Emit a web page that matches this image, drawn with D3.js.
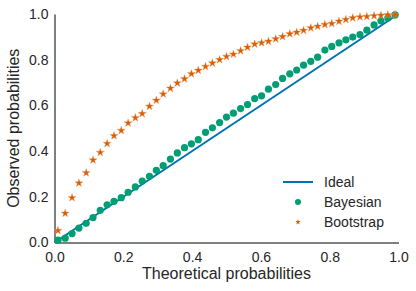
<!DOCTYPE html>
<html>
<head>
<meta charset="utf-8">
<script src="https://cdn.jsdelivr.net/npm/d3@7"></script>
<style>
  body { margin: 0; background: #fff; }
  svg { display: block; font-family: Arial, "Liberation Sans", sans-serif; }
</style>
</head>
<body>
<svg id="chart" width="416" height="291"></svg>
<script>
let theoretical = [0.010, 0.031, 0.051, 0.071, 0.092, 0.112, 0.133, 0.153, 0.173, 0.194,
  0.214, 0.235, 0.255, 0.276, 0.296, 0.316, 0.337, 0.357, 0.378, 0.398,
  0.418, 0.439, 0.459, 0.480, 0.500, 0.520, 0.541, 0.561, 0.582, 0.602,
  0.622, 0.643, 0.663, 0.684, 0.704, 0.724, 0.745, 0.765, 0.786, 0.806,
  0.827, 0.847, 0.867, 0.888, 0.908, 0.929, 0.949, 0.969, 0.990]

let bayesian = [0.010, 0.019, 0.039, 0.063, 0.084, 0.109, 0.141, 0.165, 0.180, 0.196,
  0.220, 0.243, 0.269, 0.290, 0.316, 0.336, 0.365, 0.392, 0.415, 0.432,
  0.450, 0.482, 0.502, 0.525, 0.549, 0.566, 0.586, 0.604, 0.630, 0.642,
  0.671, 0.691, 0.718, 0.738, 0.755, 0.776, 0.793, 0.811, 0.842, 0.858,
  0.874, 0.887, 0.899, 0.910, 0.929, 0.952, 0.970, 0.983, 0.996]

let bootstrap = [0.052, 0.128, 0.196, 0.260, 0.305, 0.361, 0.394, 0.433, 0.467, 0.490,
  0.523, 0.546, 0.564, 0.596, 0.622, 0.650, 0.675, 0.698, 0.716, 0.738,
  0.753, 0.770, 0.785, 0.800, 0.814, 0.824, 0.839, 0.854, 0.868, 0.874,
  0.880, 0.891, 0.901, 0.913, 0.920, 0.928, 0.939, 0.946, 0.954, 0.958,
  0.968, 0.976, 0.983, 0.987, 0.989, 0.992, 0.994, 0.996, 0.997]

let ideal = [0, 1]
let ticks = [0, 0.2, 0.4, 0.6, 0.8, 1.0]
let legendItems = ['Ideal', 'Bayesian', 'Bootstrap']

let svg = d3.select('#chart')
let x = d3.scaleLinear().domain([0, 1]).range([54.5, 398.5])
let y = d3.scaleLinear().domain([0, 1]).range([242.5, 14])

let textColor = '#262626'
let blue = '#0072B2', green = '#009E73', orange = '#D55E00'

// axes, no tick marks (seaborn white style)
let xAxis = svg.append('g')
  .attr('transform', `translate(0, ${y(0)})`)
  .call(d3.axisBottom(x).tickValues(ticks).tickFormat(d3.format('.1f')).tickSize(0).tickPadding(10))
let yAxis = svg.append('g')
  .attr('transform', `translate(${x(0)}, 0)`)
  .call(d3.axisLeft(y).tickValues(ticks).tickFormat(d3.format('.1f')).tickSize(0).tickPadding(6))

;[xAxis, yAxis].forEach(a => {
  a.select('.domain').attr('stroke', '#555').attr('stroke-width', 1.5)
  a.selectAll('text').attr('fill', textColor).style('font-size', '14px')
})

svg.append('text')
  .attr('x', (x(0) + x(1)) / 2).attr('y', 279)
  .attr('text-anchor', 'middle').attr('fill', textColor)
  .style('font-size', '16px')
  .text('Theoretical probabilities')

svg.append('text')
  .attr('transform', `translate(19, ${(y(0) + y(1)) / 2}) rotate(-90)`)
  .attr('text-anchor', 'middle').attr('fill', textColor)
  .style('font-size', '16px')
  .text('Observed probabilities')

svg.append('line')
  .attr('x1', x(ideal[0])).attr('y1', y(ideal[0]))
  .attr('x2', x(ideal[1])).attr('y2', y(ideal[1]))
  .attr('stroke', blue).attr('stroke-width', 2)

let star = d3.symbol().type(d3.symbolStar).size(21)
let smallStar = d3.symbol().type(d3.symbolStar).size(10)

svg.append('g').selectAll('circle')
  .data(theoretical)
  .join('circle')
  .attr('cx', d => x(d))
  .attr('cy', (d, i) => y(bayesian[i]))
  .attr('r', 3.6)
  .attr('fill', green)

svg.append('g').selectAll('path')
  .data(theoretical)
  .join('path')
  .attr('d', star)
  .attr('transform', (d, i) => `translate(${x(d)}, ${y(bootstrap[i])})`)
  .attr('fill', orange)
  .attr('stroke', '#f0a070').attr('stroke-width', 0.4)

// legend
let legend = svg.append('g').attr('transform', 'translate(283, 182)')
legendItems.forEach((name, i) => {
  let row = legend.append('g').attr('transform', `translate(0, ${i * 20})`)
  if (i === 0) {
    row.append('line').attr('x1', 0).attr('x2', 30).attr('y1', 0).attr('y2', 0)
      .attr('stroke', blue).attr('stroke-width', 2)
  } else if (i === 1) {
    row.append('circle').attr('cx', 15).attr('cy', 0).attr('r', 3).attr('fill', green)
  } else {
    row.append('path').attr('d', smallStar).attr('transform', 'translate(15, 0)').attr('fill', orange)
  }
  row.append('text').attr('x', 41).attr('y', 5)
    .attr('fill', textColor).style('font-size', '14px')
    .text(name)
})
</script>
</body>
</html>
